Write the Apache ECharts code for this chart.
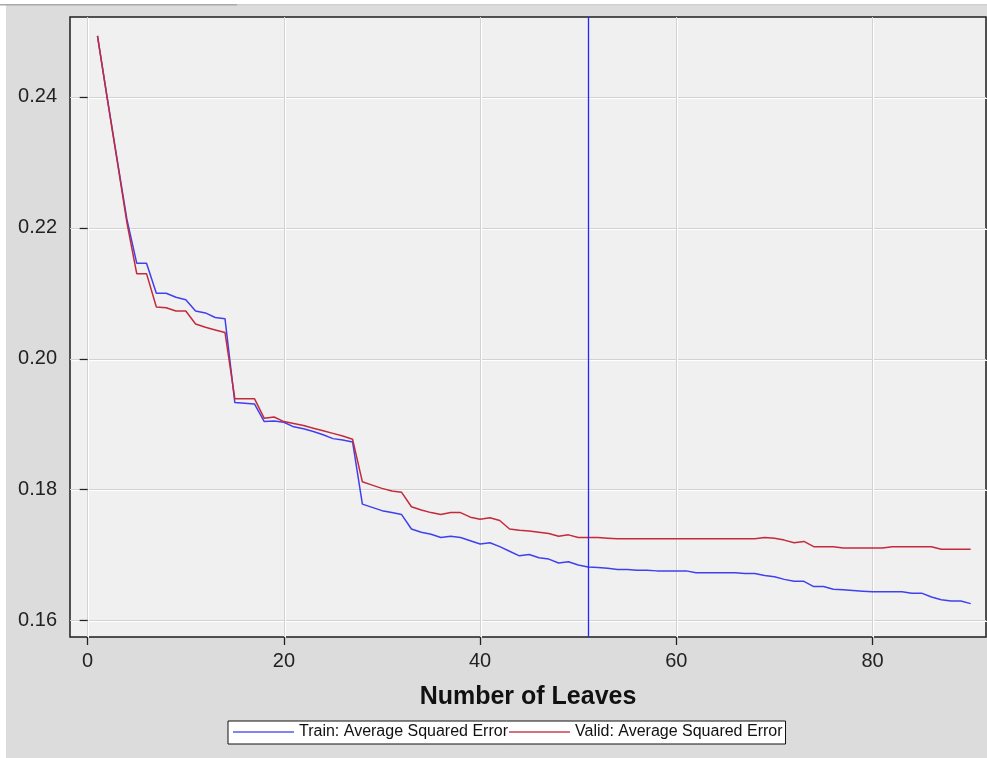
<!DOCTYPE html>
<html>
<head>
<meta charset="utf-8">
<script src="https://cdn.jsdelivr.net/npm/echarts@6/dist/echarts.min.js"></script>
<style>
  html, body { margin: 0; padding: 0; background: #ffffff; }
  #chart { width: 987px; height: 758px; }
</style>
</head>
<body>
<div id="chart"></div>
<script>
// Subtree assessment: average squared error by number of leaves
const leaves = Array.from({ length: 90 }, (_, i) => i + 1);

const trainASE = [
  0.2493, 0.2398, 0.2305, 0.2213, 0.2146, 0.2146, 0.2100, 0.2100, 0.2094, 0.2090,
  0.2073, 0.2070, 0.2063, 0.2061, 0.1933, 0.1932, 0.1931, 0.1904, 0.1905, 0.1903,
  0.1896, 0.1893, 0.1889, 0.1884, 0.1878, 0.1876, 0.1873, 0.1778, 0.1773, 0.1768,
  0.1765, 0.1762, 0.1740, 0.1735, 0.1732, 0.1727, 0.1729, 0.1727, 0.1722, 0.1717,
  0.1719, 0.1713, 0.1706, 0.1699, 0.1701, 0.1696, 0.1694, 0.1688, 0.1690, 0.1685,
  0.1682, 0.1681, 0.1680, 0.1678, 0.1678, 0.1677, 0.1677, 0.1676, 0.1676, 0.1676,
  0.1676, 0.1673, 0.1673, 0.1673, 0.1673, 0.1673, 0.1672, 0.1672, 0.1669, 0.1667,
  0.1663, 0.1660, 0.1660, 0.1652, 0.1652, 0.1648, 0.1647, 0.1646, 0.1645, 0.1644,
  0.1644, 0.1644, 0.1644, 0.1642, 0.1642, 0.1636, 0.1632, 0.1630, 0.1630, 0.1626
];

const validASE = [
  0.2493, 0.2397, 0.2303, 0.2208, 0.2130, 0.2130, 0.2079, 0.2078, 0.2073, 0.2073,
  0.2053, 0.2048, 0.2044, 0.2040, 0.1939, 0.1939, 0.1939, 0.1909, 0.1911, 0.1904,
  0.1901, 0.1898, 0.1894, 0.1890, 0.1886, 0.1882, 0.1877, 0.1812, 0.1807, 0.1802,
  0.1798, 0.1796, 0.1774, 0.1769, 0.1765, 0.1762, 0.1765, 0.1765, 0.1758, 0.1755,
  0.1757, 0.1753, 0.1740, 0.1738, 0.1737, 0.1735, 0.1733, 0.1729, 0.1731, 0.1727,
  0.1727, 0.1727, 0.1726, 0.1725, 0.1725, 0.1725, 0.1725, 0.1725, 0.1725, 0.1725,
  0.1725, 0.1725, 0.1725, 0.1725, 0.1725, 0.1725, 0.1725, 0.1725, 0.1727, 0.1726,
  0.1723, 0.1719, 0.1721, 0.1713, 0.1713, 0.1713, 0.1711, 0.1711, 0.1711, 0.1711,
  0.1711, 0.1713, 0.1713, 0.1713, 0.1713, 0.1713, 0.1709, 0.1709, 0.1709, 0.1709
];

// Selected subtree size
const selectedLeaves = 51;

const xTicks = [0, 20, 40, 60, 80];
const yTicks = [0.16, 0.18, 0.20, 0.22, 0.24];

const seriesNames = ['Train: Average Squared Error', 'Valid: Average Squared Error'];

const FONT = 'Liberation Sans, Arial, sans-serif';

const chart = echarts.init(document.getElementById('chart'), null, { renderer: 'canvas' });

const gridLine = {
  show: true,
  lineStyle: {
    color: '#d2d2d2',
    width: 1,
    shadowColor: '#ffffff',
    shadowOffsetX: 1,
    shadowOffsetY: 1,
    shadowBlur: 0
  }
};

chart.setOption({
  backgroundColor: '#dcdcdc',
  animation: false,
  graphic: [
    { type: 'rect', shape: { x: 0, y: 0, width: 987, height: 4 }, style: { fill: '#ffffff' }, z: 10 },
    { type: 'rect', shape: { x: 0, y: 0, width: 6, height: 758 }, style: { fill: '#ffffff' }, z: 10 },
    { type: 'rect', shape: { x: 0, y: 4, width: 237, height: 1.5 }, style: { fill: '#a9a9a9' }, z: 11 },
    { type: 'rect', shape: { x: 237, y: 4, width: 750, height: 1.5 }, style: { fill: '#d0d0d0' }, z: 11 }
  ],
  grid: {
    left: 70, top: 17, width: 916, height: 620,
    show: true,
    backgroundColor: '#f0f0f0',
    borderColor: '#1e1e1e',
    borderWidth: 1.5
  },
  legend: {
    data: seriesNames,
    left: 228,
    top: 721,
    orient: 'horizontal',
    backgroundColor: '#ffffff',
    borderColor: '#111111',
    borderWidth: 1,
    borderRadius: 0,
    padding: [3, 3, 4, 5],
    itemGap: 1,
    icon: 'rect',
    itemWidth: 61,
    itemHeight: 1.5,
    selectedMode: false,
    textStyle: { fontFamily: FONT, fontSize: 16, color: '#111111' }
  },
  xAxis: {
    type: 'value',
    min: -1.8,
    max: 91.56,
    name: 'Number of Leaves',
    nameLocation: 'middle',
    nameGap: 48,
    nameTextStyle: { fontFamily: FONT, fontSize: 25, fontWeight: 'bold', color: '#111111' },
    axisLine: { show: false },
    axisTick: { show: true, customValues: xTicks, length: 8, lineStyle: { color: '#222222', width: 1.3 } },
    axisLabel: {
      customValues: xTicks,
      margin: 14,
      fontFamily: FONT, fontSize: 20, color: '#222222',
      formatter: v => String(Math.round(v))
    },
    splitLine: gridLine
  },
  yAxis: {
    type: 'value',
    min: 0.1575,
    max: 0.2522,
    axisLine: { show: false },
    axisTick: { show: true, customValues: yTicks, length: 8, lineStyle: { color: '#222222', width: 1.3 } },
    axisLabel: {
      customValues: yTicks,
      margin: 13,
      fontFamily: FONT, fontSize: 20, color: '#222222',
      formatter: v => v.toFixed(2)
    },
    splitLine: gridLine
  },
  series: [
    {
      name: seriesNames[0],
      type: 'line',
      data: leaves.map((n, i) => [n, trainASE[i]]),
      symbol: 'none',
      lineStyle: { color: '#4040ee', width: 1.5 },
      itemStyle: { color: '#5a5aee' },
      z: 3,
      markLine: {
        silent: true,
        symbol: 'none',
        label: { show: false },
        lineStyle: { color: '#2424ff', width: 1.3, type: 'solid' },
        data: [{ xAxis: selectedLeaves }]
      }
    },
    {
      name: seriesNames[1],
      type: 'line',
      data: leaves.map((n, i) => [n, validASE[i]]),
      symbol: 'none',
      lineStyle: { color: '#c42a3c', width: 1.5 },
      itemStyle: { color: '#c84050' },
      z: 4
    }
  ]
});
</script>
</body>
</html>
